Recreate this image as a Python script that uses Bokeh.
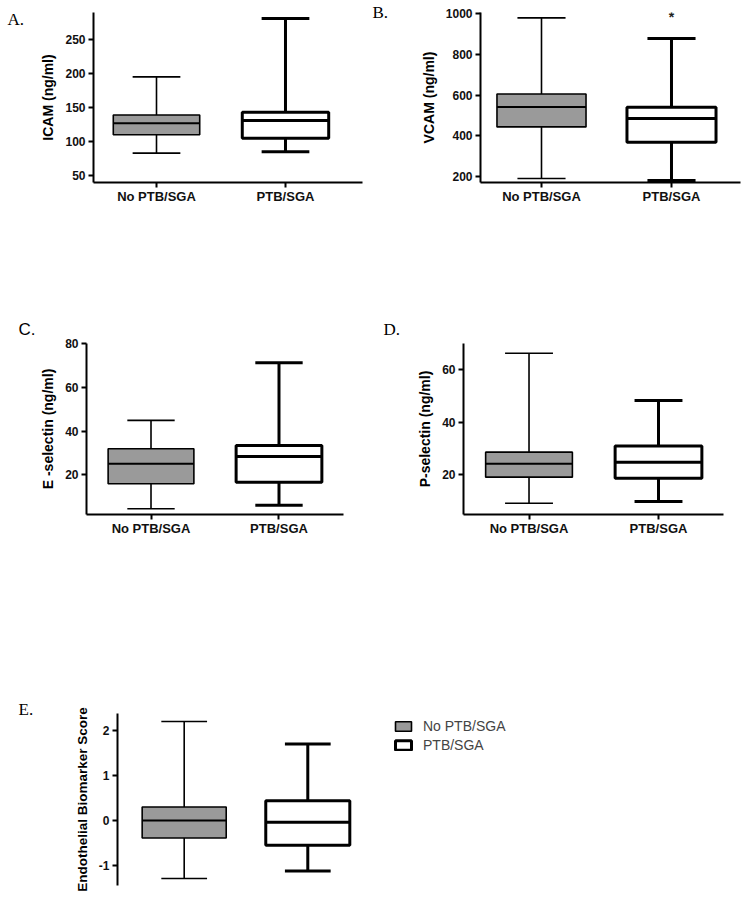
from bokeh.plotting import figure
from bokeh.models import Label, Legend, LegendItem, FixedTicker, Range1d, Spacer
from bokeh.layouts import column, row
from bokeh.embed import file_html
from bokeh.resources import INLINE

# ---------------- data ----------------
categories = ["No PTB/SGA", "PTB/SGA"]

icam_low = [83, 85]
icam_q1 = [110, 105]
icam_med = [127, 131]
icam_q3 = [139, 143]
icam_high = [195, 281]

vcam_low = [189, 179]
vcam_q1 = [443, 368]
vcam_med = [541, 484]
vcam_q3 = [605, 540]
vcam_high = [980, 878]

esel_low = [4.4, 6.0]
esel_q1 = [15.9, 16.6]
esel_med = [25.0, 28.4]
esel_q3 = [31.9, 33.4]
esel_high = [44.9, 71.3]

psel_low = [9.2, 9.8]
psel_q1 = [19.1, 18.7]
psel_med = [24.2, 24.8]
psel_q3 = [28.6, 30.9]
psel_high = [66.2, 48.2]

score_low = [-1.29, -1.12]
score_q1 = [-0.39, -0.55]
score_med = [0.0, -0.04]
score_q3 = [0.30, 0.44]
score_high = [2.2, 1.7]

icam_ticks = [50, 100, 150, 200, 250]
vcam_ticks = [200, 400, 600, 800, 1000]
esel_ticks = [20, 40, 60, 80]
psel_ticks = [20, 40, 60]
score_ticks = [-1, 0, 1, 2]

panel_letters = ["A.", "B.", "C.", "D.", "E."]

# ---------------- styles ----------------
FILLS = ["#9a9a9a", "#ffffff"]
LWS = [1.6, 3.0]
SANS = "Liberation Sans"
SERIF = "Liberation Serif"


def letter_col(width, height, text, lx, cy, font=SERIF, fh=30):
    """A column with a small letter figure whose vertical centre is at cy px from top."""
    top = int(round(cy - fh / 2))
    p = figure(width=width, height=fh, output_backend="svg", toolbar_location=None,
               x_range=Range1d(0, width), y_range=Range1d(0, fh),
               x_axis_location=None, y_axis_location=None,
               min_border=0, min_border_left=0, min_border_right=0,
               min_border_top=0, min_border_bottom=0)
    p.outline_line_color = None
    p.grid.grid_line_color = None
    p.add_layout(Label(x=lx, y=fh / 2, text=text, text_font=font, text_font_size="17px",
                       text_baseline="middle", text_align="left", text_color="black"))
    kids = []
    if top > 0:
        kids.append(Spacer(width=width, height=top))
    kids.append(p)
    rest = height - max(top, 0) - fh
    if rest > 0:
        kids.append(Spacer(width=width, height=rest))
    return column(*kids, width=width, height=height)


def make_panel(width, height, borders, xr, yr, low, q1, med, q3, high, ticks,
               ylabel, show_x=True, box_w=0.67, cap_w=0.37, ylabel_size="14px"):
    left, right, top, bottom = borders
    p = figure(width=width, height=height, output_backend="svg",
               toolbar_location=None, x_range=Range1d(*xr), y_range=Range1d(*yr),
               min_border_left=left, min_border_right=right,
               min_border_top=top, min_border_bottom=bottom,
               x_axis_location="below" if show_x else None)
    p.outline_line_color = None
    p.grid.grid_line_color = None
    p.background_fill_color = "white"
    p.border_fill_color = "white"

    ya = p.yaxis[0]
    ya.ticker = FixedTicker(ticks=ticks)
    ya.major_label_overrides = {t: str(t) for t in ticks if t < 0}
    ya.axis_label = ylabel
    ya.axis_label_text_font = SANS
    ya.axis_label_text_font_style = "bold"
    ya.axis_label_text_font_size = ylabel_size
    ya.axis_label_text_color = "black"
    ya.axis_label_standoff = 6
    ya.major_label_text_font = SANS
    ya.major_label_text_font_style = "bold"
    ya.major_label_text_font_size = "12px"
    ya.major_label_text_color = "#111111"
    ya.major_label_standoff = 3
    ya.axis_line_width = 2
    ya.axis_line_color = "black"
    ya.major_tick_line_width = 2
    ya.major_tick_out = 5
    ya.major_tick_in = 0
    ya.minor_tick_line_color = None

    xs = [i + 1 for i in range(len(categories))]
    if show_x:
        xa = p.xaxis[0]
        xa.ticker = FixedTicker(ticks=xs)
        xa.major_label_overrides = {x: c for x, c in zip(xs, categories)}
        xa.major_label_text_font = SANS
        xa.major_label_text_font_style = "bold"
        xa.major_label_text_font_size = "13px"
        xa.major_label_text_color = "#111111"
        xa.major_label_standoff = 1
        xa.axis_line_width = 2
        xa.axis_line_color = "black"
        xa.major_tick_line_width = 2
        xa.major_tick_out = 5
        xa.major_tick_in = 0
        xa.minor_tick_line_color = None

    boxes = []
    for i, x in enumerate(xs):
        lw = LWS[i]
        p.segment(x0=[x, x], y0=[q3[i], q1[i]], x1=[x, x], y1=[high[i], low[i]],
                  line_color="black", line_width=lw)
        p.segment(x0=[x - cap_w / 2, x - cap_w / 2], y0=[high[i], low[i]],
                  x1=[x + cap_w / 2, x + cap_w / 2], y1=[high[i], low[i]],
                  line_color="black", line_width=lw)
        b = p.quad(left=[x - box_w / 2], right=[x + box_w / 2], bottom=[q1[i]], top=[q3[i]],
                   fill_color=FILLS[i], line_color="black", line_width=lw)
        boxes.append(b)
        p.segment(x0=[x - box_w / 2], y0=[med[i]], x1=[x + box_w / 2], y1=[med[i]],
                  line_color="black", line_width=lw + 0.4 if i == 0 else lw)
    return p, boxes


# Row 1
LA = letter_col(36, 300, panel_letters[0], 7, 19)
pA, _ = make_panel(334, 300, (57, 8, 10, 118), (0.5116, 2.597), (39.8, 289.7),
                   icam_low, icam_q1, icam_med, icam_q3, icam_high, icam_ticks,
                   "ICAM (ng/ml)")
LB = letter_col(30, 300, panel_letters[1], 2, 12, fh=24)
pB, _ = make_panel(342, 300, (80, 2, 12, 117), (0.5308, 2.5308), (169.2, 1006.4),
                   vcam_low, vcam_q1, vcam_med, vcam_q3, vcam_high, vcam_ticks,
                   "VCAM (ng/ml)", box_w=0.685)
pB.add_layout(Label(x=2, y=985, text="*", text_align="center", text_baseline="middle",
                    text_font=SANS, text_font_size="14px", text_font_style="bold",
                    text_color="#222222"))

# Row 2
LC = letter_col(36, 390, panel_letters[2], 18, 28.5, font=SANS)
pC, _ = make_panel(334, 390, (50, 27, 43, 176), (0.496, 2.504), (1.8, 80.1),
                   esel_low, esel_q1, esel_med, esel_q3, esel_high, esel_ticks,
                   "E -selectin (ng/ml)")
LD = letter_col(40, 390, panel_letters[3], 13, 28.5)
pD, _ = make_panel(332, 390, (53, 19, 43, 176), (0.494, 2.502), (4.9, 69.9),
                   psel_low, psel_q1, psel_med, psel_q3, psel_high, psel_ticks,
                   "P-selectin (ng/ml)")

# Row 3
LE = letter_col(40, 208, panel_letters[4], 18, 18.5)
pE, boxesE = make_panel(702, 208, (77, 2, 23, 13), (0.4604, 5.501), (-1.444, 2.378),
                        score_low, score_q1, score_med, score_q3, score_high, score_ticks,
                        "Endothelial Biomarker Score", show_x=False, box_w=0.68,
                        ylabel_size="13.5px")

legend = Legend(items=[LegendItem(label=c, renderers=[b]) for c, b in zip(categories, boxesE)],
                location=(276, 132), padding=0, margin=0, spacing=3,
                glyph_width=20, glyph_height=12, label_height=12, label_standoff=10,
                label_text_font=SANS, label_text_font_size="14px",
                border_line_color=None, background_fill_alpha=0)
pE.add_layout(legend)

layout = column(row(LA, pA, LB, pB), row(LC, pC, LD, pD), row(LE, pE))

with open("out.html", "w") as f:
    f.write(file_html(layout, INLINE))
